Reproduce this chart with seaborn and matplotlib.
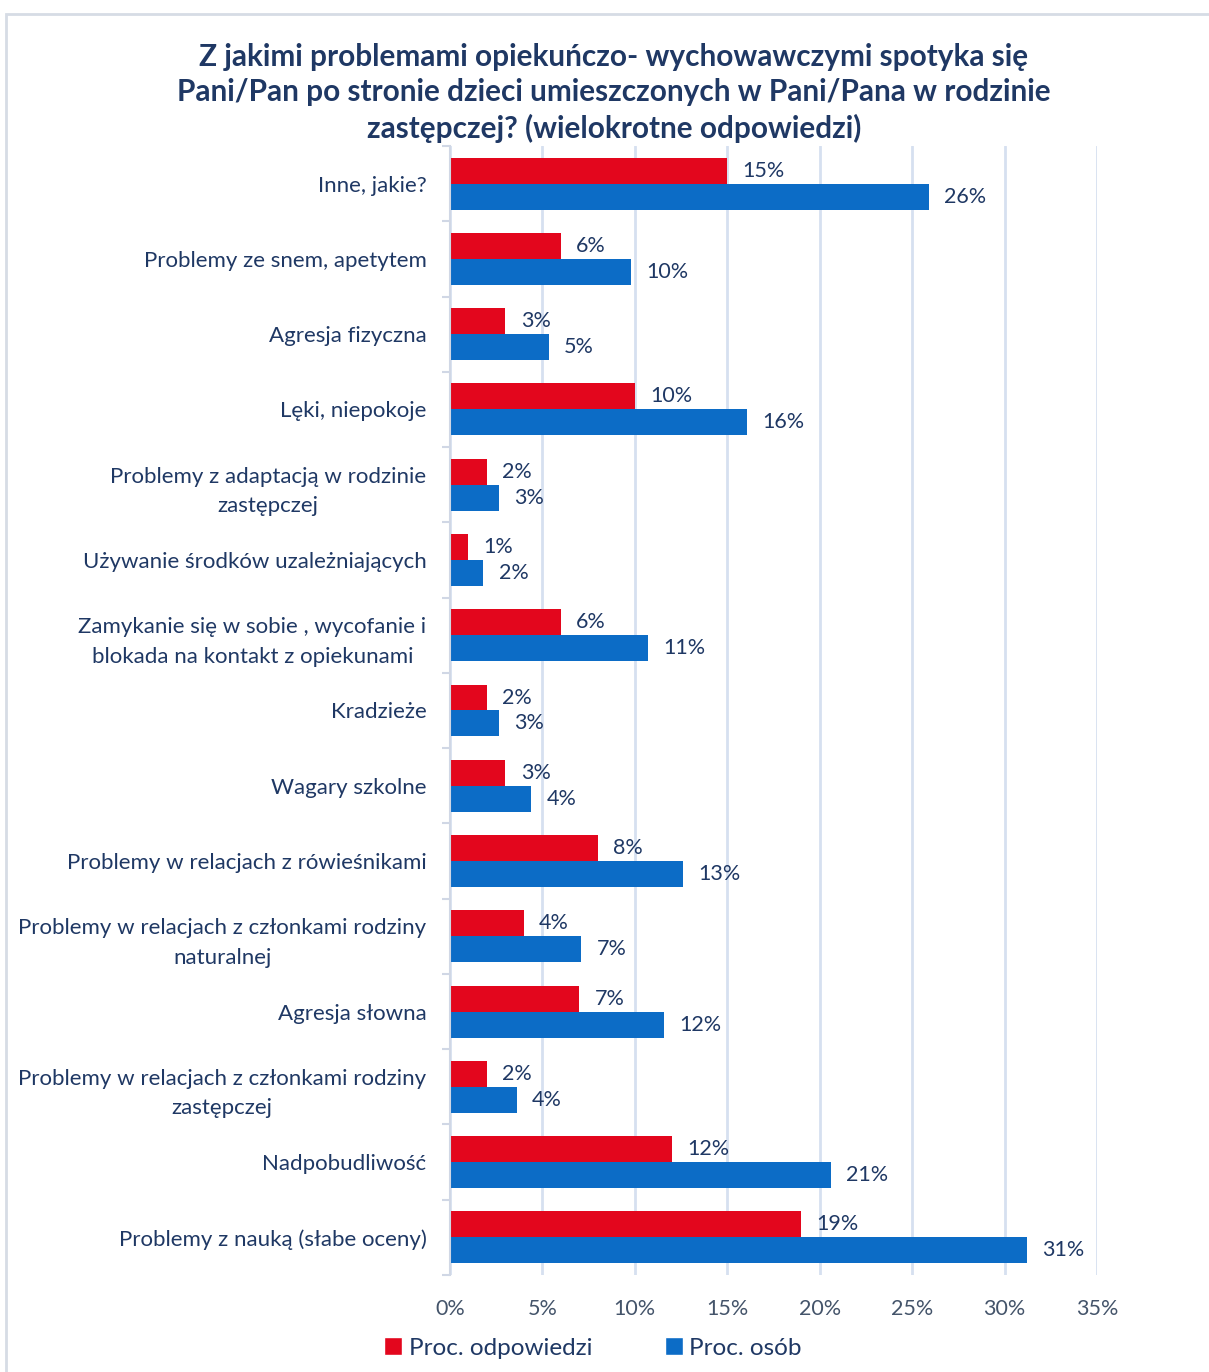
import pandas as pd
import seaborn as sns
import matplotlib.pyplot as plt
from matplotlib.patches import Rectangle, Patch
from matplotlib.ticker import FixedLocator

# categories, top to bottom as in the chart
categories = [
    "Inne, jakie?",
    "Problemy ze snem, apetytem",
    "Agresja fizyczna",
    "Lęki, niepokoje",
    "Problemy z adaptacją w rodzinie\nzastępczej",
    "Używanie środków uzależniających",
    "Zamykanie się w sobie , wycofanie i\nblokada na kontakt z opiekunami",
    "Kradzieże",
    "Wagary szkolne",
    "Problemy w relacjach z rówieśnikami",
    "Problemy w relacjach z członkami rodziny\nnaturalnej",
    "Agresja słowna",
    "Problemy w relacjach z członkami rodziny\nzastępczej",
    "Nadpobudliwość",
    "Problemy z nauką (słabe oceny)",
]
# percent of answers (red) and percent of people (blue)
proc_odp = [15.0, 6.0, 3.0, 10.0, 2.0, 1.0, 6.0, 2.0, 3.0, 8.0, 4.0, 7.0, 2.0, 12.0, 19.0]
proc_osob = [25.9, 9.8, 5.35, 16.05, 2.65, 1.8, 10.7, 2.65, 4.4, 12.6, 7.1, 11.6, 3.6, 20.6, 31.2]
series = ["Proc. odpowiedzi", "Proc. osób"]
x_ticks = [0, 5, 10, 15, 20, 25, 30, 35]

df = pd.DataFrame({
    "kategoria": categories * 2,
    "wartosc": proc_odp + proc_osob,
    "seria": [series[0]] * len(categories) + [series[1]] * len(categories),
})

red = "#E3061D"
blue = "#0C6CC6"
navy = "#1F3864"
grid_c = "#D6E0F0"

sns.set_theme(style="white")
plt.rcParams["font.family"] = ["Lato", "DejaVu Sans"]

fig = plt.figure(figsize=(12.09, 13.72), dpi=100)
ax = fig.add_axes([450 / 1209, 1 - 1275 / 1372, 647 / 1209, 1129 / 1372])

sns.barplot(data=df, y="kategoria", x="wartosc", hue="seria", order=categories,
            hue_order=series, palette=[red, blue], orient="h", width=0.69,
            saturation=1, linewidth=0, legend=False, ax=ax)

# data labels
for cont in ax.containers:
    ax.bar_label(cont, labels=[f"{round(v):.0f}%" for v in cont.datavalues],
                 padding=11, fontsize=15.5, color=navy)

ax.set_xlim(0, 35)
ax.set_xticks(x_ticks)
ax.set_xticklabels([f"{t}%" for t in x_ticks], fontsize=15.5, color="#44546A")
ax.tick_params(axis="x", length=0, pad=17)
ax.xaxis.grid(True, color=grid_c, linewidth=2)
ax.set_axisbelow(True)
ax.set_xlabel("")
ax.set_ylabel("")
ax.tick_params(axis="y", length=0, pad=17, labelsize=16, labelcolor=navy)
for lab in ax.get_yticklabels():
    lab.set_horizontalalignment("right")
    lab.set_multialignment("center")
    lab.set_linespacing(1.6)

# small separator ticks on the left axis
ax.yaxis.set_minor_locator(FixedLocator([i + 0.5 for i in range(-1, len(categories))]))
ax.tick_params(axis="y", which="minor", length=6, width=1.5, color="#D0D7E5", left=True)
for s in ["top", "right", "bottom"]:
    ax.spines[s].set_visible(False)
ax.spines["left"].set_color("#D0D7E5")
ax.spines["left"].set_linewidth(1.5)

fig.text(614 / 1209, 1 - 93 / 1372,
         "Z jakimi problemami opiekuńczo- wychowawczymi spotyka się\n"
         "Pani/Pan po stronie dzieci umieszczonych w Pani/Pana w rodzinie\n"
         "zastępczej? (wielokrotne odpowiedzi)",
         ha="center", va="center", fontsize=21.4, fontweight="bold",
         color=navy, linespacing=1.3)

handles = [Patch(facecolor=red), Patch(facecolor=blue)]
fig.legend(handles, series, loc="center", bbox_to_anchor=(593 / 1209, 1 - 1348 / 1372),
           ncol=2, frameon=False, fontsize=17.5, handlelength=0.75, handleheight=0.75,
           handletextpad=0.25, columnspacing=3.0, labelcolor=navy)

# outer chart frame
fig.patches.append(Rectangle((6 / 1209, -0.05), 1.2, 1 - 14 / 1372 + 0.05,
                             transform=fig.transFigure, fill=False,
                             edgecolor="#D6DCE5", linewidth=2))

fig.savefig("out.png", dpi=100)
